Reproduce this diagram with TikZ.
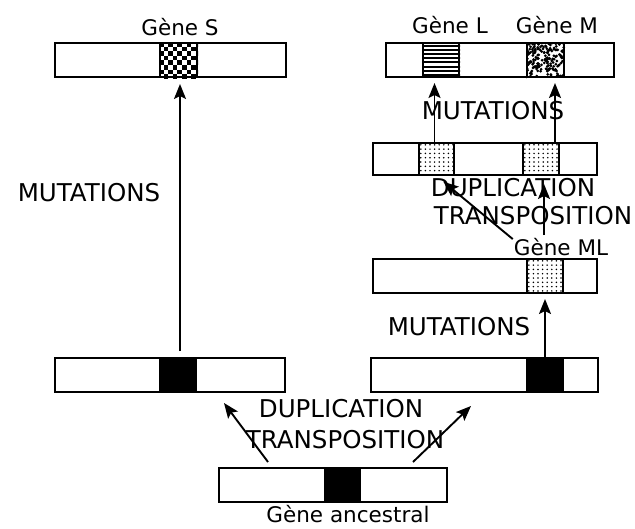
\documentclass[tikz,border=0pt]{standalone}
\usepackage{fontspec}
\setmainfont{DejaVu Sans}
\usetikzlibrary{arrows.meta}

\newcommand{\bigfont}{\fontsize{24.5}{26}\selectfont}
\newcommand{\genefont}{\fontsize{21.5}{23}\selectfont}

% fillings of the gene boxes
\newcommand{\checkers}[1]{%
  \begin{scope}
    \clip (#1.north west) rectangle (#1.south east);
    \foreach \i in {0,...,8}{\foreach \j in {0,...,8}{
      \pgfmathtruncatemacro\k{mod(\i+\j,2)}
      \ifnum\k=0 \fill ([xshift=\i*4.6pt, yshift=-\j*4.6pt]#1.north west) rectangle ++(4.6,4.6); \fi}}
  \end{scope}}
\newcommand{\stripes}[1]{%
  \begin{scope}
    \clip (#1.north west) rectangle (#1.south east);
    \foreach \j in {1,...,8}
      \draw[line width=1.9pt] ([yshift=-\j*4.2pt+0.6pt]#1.north west) -- ++(40,0);
  \end{scope}}
\newcommand{\spots}[1]{%
  \begin{scope}
    \clip (#1.north west) rectangle (#1.south east);
    \pgfmathsetseed{11}
    \foreach \n in {1,...,190}{
      \pgfmathsetmacro\rx{rnd*38}
      \pgfmathsetmacro\ry{rnd*35}
      \fill ([xshift=\rx pt, yshift=-\ry pt]#1.north west) circle (1.5);}
  \end{scope}}
\newcommand{\dotty}[1]{%
  \begin{scope}
    \clip (#1.north west) rectangle (#1.south east);
    \foreach \i in {0,...,7}{\foreach \j in {0,...,7}{
      \fill ([xshift=2.8pt+\i*4.6pt, yshift=-2.8pt-\j*4.3pt]#1.north west) circle (0.85);}}
  \end{scope}}

\tikzset{
  bar/.style={draw, line width=2pt, rectangle, inner sep=0pt, minimum height=34pt},
  seg/.style={draw, line width=2pt, rectangle, inner sep=0pt, minimum height=34pt, minimum width=36pt},
  blackseg/.style={seg, fill=black},
  big/.style={font=\bigfont, inner sep=1pt},
  gene/.style={font=\genefont, inner sep=1pt},
  arr/.style={-{Stealth[length=15pt,width=12pt,inset=3pt]}, line width=1.9pt},
}

\begin{document}
\begin{tikzpicture}[x=1pt,y=-1pt]
\useasboundingbox (0,0) rectangle (635,528);

% chromosomes
\node[bar, minimum width=231pt] (barS) at (170.5,60) {};
\node[bar, minimum width=228pt] (barLM) at (500,60) {};
\node[bar, minimum width=224pt, minimum height=32pt] (barDup) at (485,159) {};
\node[bar, minimum width=224pt] (barML) at (485,276) {};
\node[bar, minimum width=230pt] (barL) at (170,375) {};
\node[bar, minimum width=227pt] (barR) at (484.5,375) {};
\node[bar, minimum width=228pt] (barAnc) at (333,485) {};

% genes
\node[seg, minimum width=37pt] (segS) at (178.5,60) {};
\node[seg] (segL) at (441,60) {};
\node[seg, minimum width=37pt] (segM) at (545.5,60) {};
\node[seg, minimum width=35pt, minimum height=32pt] (segDupL) at (436.5,159) {};
\node[seg, minimum height=32pt] (segDupM) at (541,159) {};
\node[seg] (segML) at (545,276) {};
\node[blackseg] (segA1) at (178,375) {};
\node[blackseg] (segA2) at (545,375) {};
\node[blackseg, minimum width=35pt] (segAnc) at (342.5,485) {};

\checkers{segS}
\stripes{segL}
\spots{segM}
\dotty{segDupL}
\dotty{segDupM}
\dotty{segML}

% labels
\node[gene] (labS) at (180,27) {Gène S};
\node[gene] (labL) at (450,25) {Gène L};
\node[gene] (labM) at (557,25) {Gène M};
\node[gene] (labML) at (561,247) {Gène ML};
\node[gene] (labAnc) at (348,514) {Gène ancestral};

\node[big] (mutS) at (89,193) {MUTATIONS};
\node[big] (mutLM) at (493,111) {MUTATIONS};
\node[big] (mutML) at (459,327) {MUTATIONS};
\node[big] (dupR) at (513,188) {DUPLICATION};
\node[big] (trR) at (533,216) {TRANSPOSITION};
\node[big] (dupB) at (341,409) {DUPLICATION};
\node[big] (trB) at (345,440) {TRANSPOSITION};

% arrows
\draw[arr, shorten <=6pt, shorten >=6pt] ([xshift=2pt]segA1.north) -- ([xshift=1.5pt]segS.south);
\draw[arr, shorten >=5pt] ([xshift=-2pt]segDupL.north) -- ([xshift=-2pt]segDupL.north |- segL.south);
\draw[arr, shorten >=5pt] ([xshift=14pt]segDupM.north) -- ([xshift=14pt]segDupM.north |- segM.south);
\draw[arr, shorten >=9pt] ([yshift=-2pt]labML.north west) -- (segDupL.south);
\draw[arr, shorten <=2pt, shorten >=8pt] ([xshift=3pt]segDupM.south |- labML.north) -- ([xshift=3pt]segDupM.south);
\draw[arr, shorten >=5pt] (segA2.north) -- (segML.south);
\draw[arr] ([xshift=-65pt,yshift=5pt]barAnc.north) -- ([xshift=-62pt,yshift=-10pt]barL.south east);
\draw[arr] ([xshift=80pt,yshift=5pt]barAnc.north) -- ([xshift=101pt,yshift=-13pt]barR.south west);
\end{tikzpicture}
\end{document}
